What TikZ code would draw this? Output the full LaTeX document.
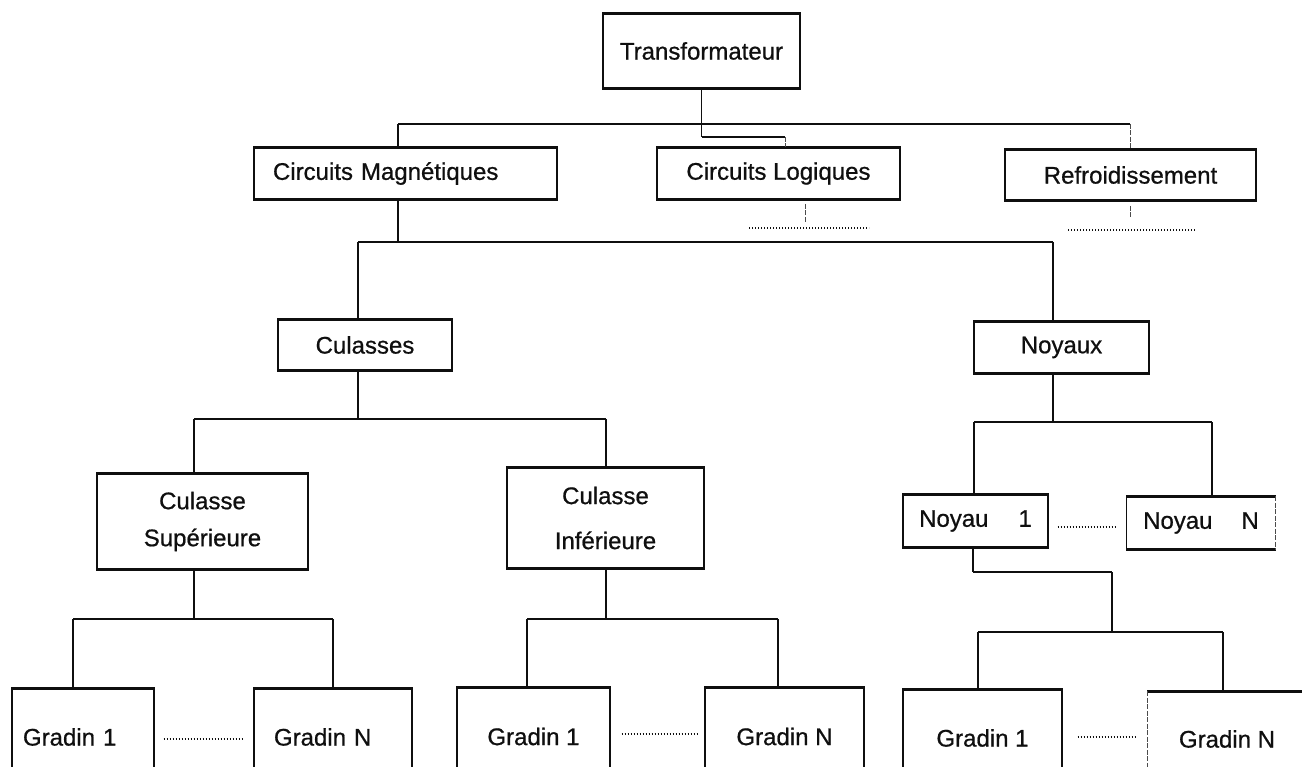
\documentclass[tikz,border=0pt]{standalone}
\usepackage{fontspec}
\setmainfont{Liberation Sans}
\newfontfamily\scanfont{Liberation Sans}[FakeBold=0.7]
\usetikzlibrary{calc}
\definecolor{ink}{gray}{0.06}
\newcommand\lbl{\scanfont\fontsize{24}{37}\selectfont}

\begin{document}
\begin{tikzpicture}[x=1pt, y=-1pt,
  rim/.style={draw=ink, line width=2.8pt},
  box/.style={draw=ink, line width=1.2pt, inner sep=0pt, align=center,
    font=\lbl, text=ink,
    append after command={\pgfextra{\draw[rim]
      (\tikzlastnode.north west) -- (\tikzlastnode.north east)
      (\tikzlastnode.south west) -- (\tikzlastnode.south east);}}},
  openbox/.style={box, draw=none},
  side/.style={draw=ink, line width=1.2pt},
  stem/.style={draw=ink, line width=1.4pt},
  bus/.style={draw=ink, line width=2.6pt},
  faint/.style={draw=ink!75, line width=0.9pt, dash pattern=on 5pt off 1.5pt},
  dots/.style={draw=ink, line width=1.3pt, dash pattern=on 1.3pt off 1.7pt},
]
\useasboundingbox (0,0) rectangle (1302,767);
\fill[white] (0,0) rectangle (1302,767);
\clip (0,0) rectangle (1302,767);

% ---------- boxes ----------
\node[box, minimum width=197pt, minimum height=74pt] (T) at (701.5,51) {Transformateur};

\node[box, minimum height=51pt, text width=265pt, inner xsep=19pt, align=left]
  (CM) at (405.5,173.5) {Circuits Magnétiques};
\node[box, minimum width=243pt, minimum height=51pt] (CL) at (778.5,173.5) {Circuits Logiques};
\node[box, minimum width=251pt, minimum height=50pt] (RF) at (1130.5,175) {Refroidissement};

\node[box, minimum width=174pt, minimum height=50pt] (CU) at (365,345) {Culasses};
\node[box, minimum width=175pt, minimum height=51pt] (NO) at (1061.5,347.5) {Noyaux};

\node[box, minimum width=211pt, minimum height=95pt] (SU) at (202.5,521.5) {Culasse\\Supérieure};
\node[box, minimum width=197pt, minimum height=100pt] (IN) at (605.5,518) {Culasse\\[8pt]Inférieure};

\node[box, minimum width=145pt, minimum height=52pt] (N1) at (975.5,521) {Noyau\hspace{30pt}1};
\node[openbox, minimum width=148pt, minimum height=52pt] (NN) at (1201,523) {Noyau\hspace{29pt}N};
\draw[side] (NN.north west) -- (NN.south west);
\draw[faint] (NN.north east) -- (NN.south east);

\node[box, minimum height=96pt, text width=120pt, inner xsep=11pt, align=left]
  (G1a) at (83,737) {Gradin 1};
\node[box, minimum height=96pt, text width=118pt, inner xsep=20pt, align=left]
  (GNa) at (333,737) {Gradin N};
\node[box, minimum width=153pt, minimum height=97pt] (G1b) at (533.5,736.5) {Gradin 1};
\node[box, minimum width=159pt, minimum height=97pt] (GNb) at (784.5,736.5) {Gradin N};
\node[box, minimum width=159pt, minimum height=96pt] (G1c) at (982.5,738) {Gradin 1};
\node[openbox, minimum width=158pt, minimum height=94pt] (GNc) at (1227,739) {Gradin N};
\draw[faint] (GNc.north west) -- (GNc.south west);
\draw[side] (GNc.north east) -- (GNc.south east);

% ---------- junction points ----------
\coordinate (b1L) at (398,124);   \coordinate (b1R) at (1130,124);
\coordinate (cls) at (785,137);
\coordinate (b2L) at (358,242);   \coordinate (b2R) at (1053,242);
\coordinate (b3L) at (194,419);   \coordinate (b3R) at (606,419);
\coordinate (b4L) at (974,422);   \coordinate (b4R) at (1212,422);
\coordinate (b5L) at (73,619);    \coordinate (b5R) at (333,619);
\coordinate (b6L) at (527,619);   \coordinate (b6R) at (778,619);
\coordinate (n1o) at (973,572);   \coordinate (jn) at (1112,572);
\coordinate (b7L) at (978,632);   \coordinate (b7R) at (1223,632);

% open branches under the logic and cooling boxes
\coordinate (clA) at (805,204);   \coordinate (clB) at (805,223);
\coordinate (clC) at (749,228);   \coordinate (clD) at (869,228);
\coordinate (rfA) at (1130,206);  \coordinate (rfB) at (1130,219);
\coordinate (rfC) at (1068,230);  \coordinate (rfD) at (1196,230);

% ---------- level 1 ----------
\draw[stem] (T.south) -- (T.south |- b1L);
\draw[bus] (b1L) -- (b1R);
\draw[stem] (b1L) -- (b1L |- CM.north);
\draw[faint] (b1R) -- (b1R |- RF.north);
\draw[stem] (T.south |- b1L) -- (T.south |- cls);
\draw[bus] (T.south |- cls) -- (cls);
\draw[faint] (cls) -- (cls |- CL.north);

\draw[faint] (clA) -- (clB);
\draw[dots] (clC) -- (clD);
\draw[faint] (rfA) -- (rfB);
\draw[dots] (rfC) -- (rfD);

% ---------- level 2 ----------
\draw[stem] (b1L |- CM.south) -- (b1L |- b2L);
\draw[bus] (b2L) -- (b2R);
\draw[stem] (b2L) -- (b2L |- CU.north);
\draw[stem] (b2R) -- (b2R |- NO.north);

% ---------- level 3 ----------
\draw[stem] (b2L |- CU.south) -- (b2L |- b3L);
\draw[bus] (b3L) -- (b3R);
\draw[stem] (b3L) -- (b3L |- SU.north);
\draw[stem] (b3R) -- (b3R |- IN.north);

\draw[stem] (b2R |- NO.south) -- (b2R |- b4L);
\draw[bus] (b4L) -- (b4R);
\draw[stem] (b4L) -- (b4L |- N1.north);
\draw[stem] (b4R) -- (b4R |- NN.north);
\draw[dots] ($(N1.east)+(9,6)$) -- ($(NN.west)+(-11,4)$);

% ---------- level 4 ----------
\draw[stem] (b3L |- SU.south) -- (b3L |- b5L);
\draw[bus] (b5L) -- (b5R);
\draw[stem] (b5L) -- (b5L |- G1a.north);
\draw[stem] (b5R) -- (b5R |- GNa.north);
\draw[dots] ($(G1a.east)+(9,2)$) -- ($(GNa.west)+(-11,2)$);

\draw[stem] (b3R |- IN.south) -- (b3R |- b6L);
\draw[bus] (b6L) -- (b6R);
\draw[stem] (b6L) -- (b6L |- G1b.north);
\draw[stem] (b6R) -- (b6R |- GNb.north);
\draw[dots] ($(G1b.east)+(11,-2.5)$) -- ($(GNb.west)+(-5,-2.5)$);

\draw[stem] (n1o |- N1.south) -- (n1o);
\draw[bus] (n1o) -- (jn);
\draw[stem] (jn) -- (jn |- b7L);
\draw[bus] (b7L) -- (b7R);
\draw[stem] (b7L) -- (b7L |- G1c.north);
\draw[stem] (b7R) -- (b7R |- GNc.north);
\draw[dots] ($(G1c.east)+(15,-1)$) -- ($(GNc.west)+(-11,-2)$);
\end{tikzpicture}
\end{document}
